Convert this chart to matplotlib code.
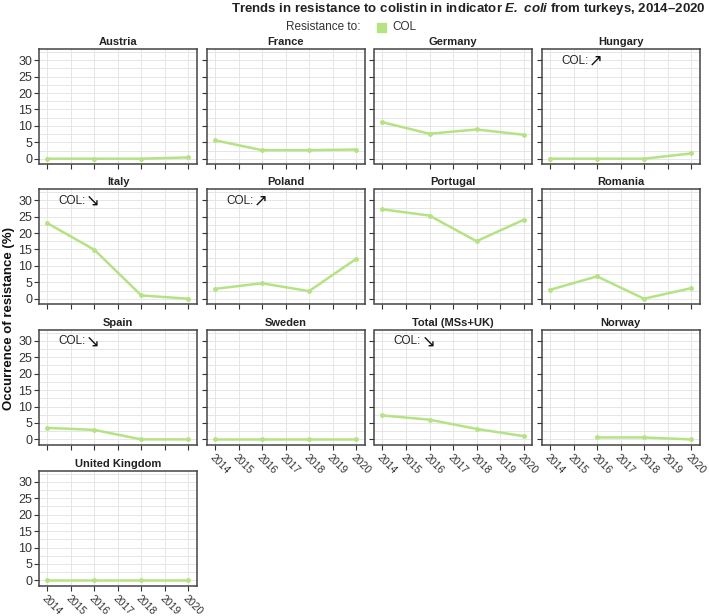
import numpy as np
import matplotlib
matplotlib.use("Agg")
import matplotlib.pyplot as plt

plt.rcParams['font.family'] = ['Liberation Sans', 'DejaVu Sans']
plt.rcParams['mathtext.fontset'] = 'custom'
plt.rcParams['mathtext.bfit'] = 'Liberation Sans:bold:italic'

# data
years = [2014, 2016, 2018, 2020]
countries = ["Austria", "France", "Germany", "Hungary",
             "Italy", "Poland", "Portugal", "Romania",
             "Spain", "Sweden", "Total (MSs+UK)", "Norway",
             "United Kingdom"]
col_values = {
    "Austria": [0.0, 0.0, 0.0, 0.4],
    "France": [5.6, 2.6, 2.6, 2.8],
    "Germany": [11.1, 7.6, 8.9, 7.3],
    "Hungary": [0.0, 0.0, 0.0, 1.6],
    "Italy": [23.0, 14.9, 1.0, 0.0],
    "Poland": [3.0, 4.7, 2.3, 12.1],
    "Portugal": [27.2, 25.3, 17.5, 24.0],
    "Romania": [2.7, 6.8, 0.0, 3.2],
    "Spain": [3.5, 2.9, 0.0, 0.0],
    "Sweden": [0.0, 0.0, 0.0, 0.0],
    "Total (MSs+UK)": [7.3, 6.0, 3.2, 1.0],
    "Norway": [np.nan, 0.6, 0.6, 0.0],
    "United Kingdom": [0.0, 0.0, 0.0, 0.0],
}
# significant trends shown in the panels
trends = {"Hungary": "\u2197", "Italy": "\u2198", "Poland": "\u2197",
          "Spain": "\u2198", "Total (MSs+UK)": "\u2198"}

tick_years = list(range(2014, 2021))
y_ticks = [0, 5, 10, 15, 20, 25, 30]

line_col = "#b5e384"
W, H = 709, 616
fig = plt.figure(figsize=(W / 100, H / 100), dpi=100)

lefts = [39.3, 207, 374.5, 542]
tops = [49.3, 189.3, 330, 471]
pw, ph = 157.5, 115

for i, name in enumerate(countries):
    r, c = divmod(i, 4)
    ax = fig.add_axes([lefts[c] / W, 1 - (tops[r] + ph) / H, pw / W, ph / H])
    ax.set_xlim(2013.66, 2020.36)
    ax.set_ylim(-1.7, 33.3)
    ax.set_xticks(tick_years)
    ax.set_yticks(y_ticks)
    ax.set_yticks(np.arange(2.5, 33, 5), minor=True)
    ax.grid(True, which="both", color="#e6e6e6", lw=0.7)
    ax.set_axisbelow(True)
    for s in ax.spines.values():
        s.set_color("#444444")
        s.set_linewidth(1.1)
    ax.tick_params(which="major", length=3.5, width=0.8, color="#333333",
                   labelsize=9, labelcolor="#333333", pad=1.5)
    ax.tick_params(which="minor", length=0)

    vals = np.array(col_values[name], dtype=float)
    ax.plot(years, vals, color=line_col, lw=1.8, marker="o", ms=3.5,
            markeredgewidth=0, zorder=3)
    ax.set_title(name, fontsize=8, fontweight="bold", color="#222222", pad=3)

    if name in trends:
        t = ax.text(0.12, 0.9, "COL:", transform=ax.transAxes,
                    fontsize=8.5, color="#222222", ha="left", va="center")
        ax.annotate(trends[name], xy=(1, 0.5), xycoords=t,
                    xytext=(0.5, 0), textcoords="offset points",
                    ha="left", va="center", fontsize=12, color="#111111",
                    family=['DejaVu Sans'])

    if c != 0:
        ax.tick_params(axis="y", labelleft=False)
    # x labels only where nothing is below
    if i < 9:
        ax.tick_params(axis="x", labelbottom=False)
    else:
        for lab in ax.get_xticklabels():
            lab.set_rotation(-45)
            lab.set_ha("left")
            lab.set_va("top")
            lab.set_rotation_mode("anchor")
            lab.set_fontsize(7.5)

fig.text(706 / W, 1 - 9 / H,
         r"Trends in resistance to colistin in indicator $\mathbfit{E.}$ $\mathbfit{coli}$ from turkeys, 2014–2020",
         ha="right", va="center", fontsize=9.5, fontweight="bold", color="#222222")

# legend
fig.text(360 / W, 1 - 27 / H, "Resistance to:", ha="right", va="center",
         fontsize=8.5, color="#333333")
fig.patches.append(plt.Rectangle((377 / W, 1 - 32 / H), 9 / W, 9 / H,
                                 transform=fig.transFigure, color=line_col,
                                 figure=fig))
fig.text(392 / W, 1 - 27 / H, "COL", ha="left", va="center",
         fontsize=8.5, color="#333333")

fig.text(9 / W, 1 - 318 / H, "Occurrence of resistance (%)", rotation=90,
         ha="center", va="center", fontsize=9.5, fontweight="bold",
         color="#111111")

fig.savefig("out.png", dpi=100)
